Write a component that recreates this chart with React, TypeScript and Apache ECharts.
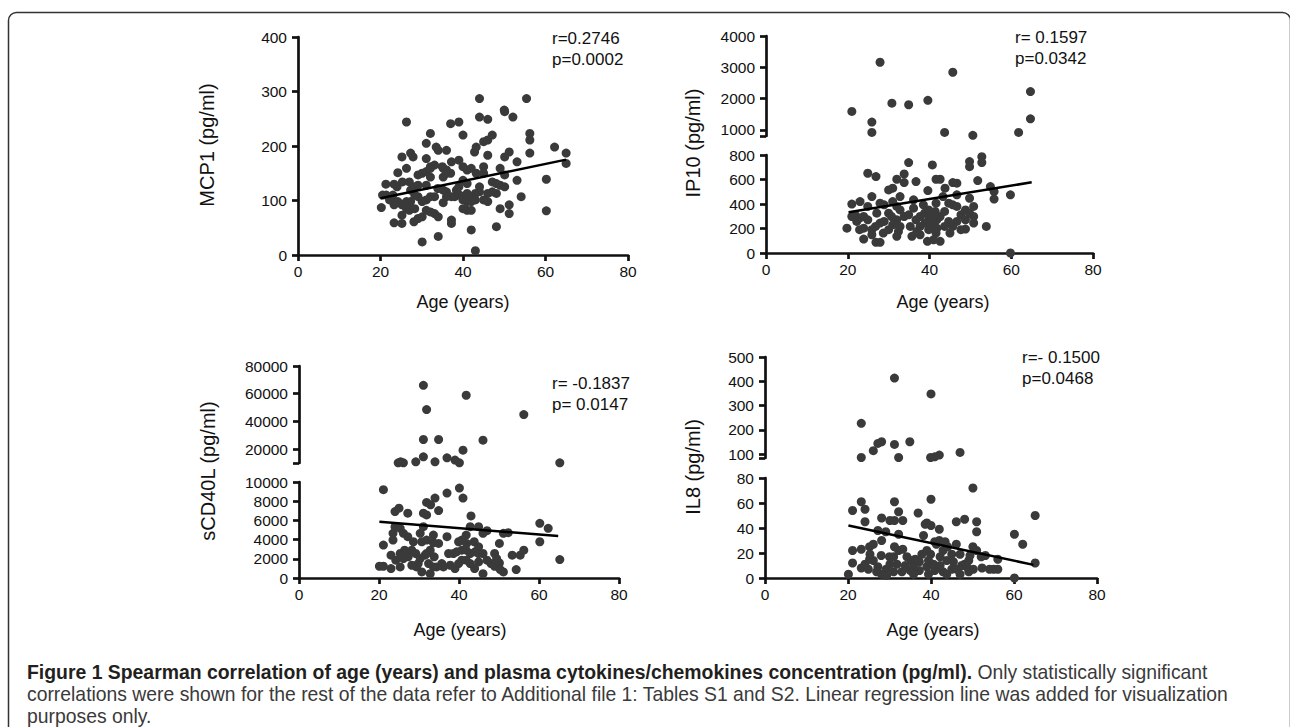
import React, { useEffect, useRef } from 'react';
import * as echarts from 'echarts';

// ---------- DATA ----------
const xTicks = [0, 20, 40, 60, 80];

// MCP1 (pg/ml) vs age
const mcp1Points: number[][] = [
  [20.2,87],[21.3,130],[21.4,110],[23.3,130],[24.2,151],[25.2,180],[26.3,244],[27.3,187],[27.9,180],[26.3,159],[27,134],[23.3,59],[25.2,58],[25.2,73],[28.1,61],[29.1,67],[30.1,70],[30.1,24],[31.1,205],[32.1,223],[31.1,177],[31.1,153],[32.1,162],[33.1,165],[33.5,198],[34,192],[36,192],[37,241],[39,244],[40,220],[35.2,159],[35.2,143],[36,150],[33.1,76],[34,70],[34,34],[37.2,64],[37.2,58],[35.2,96],[33.9,122],[36,116],[37.2,171],[39,174],[40,162],[41,156],[42,159],[42.8,189],[43.2,198],[44,287],[44,253],[46,249],[45,208],[46,211],[47.1,220],[46,183],[45,150],[43.2,150],[42,46],[43,8],[48.1,52],[49,85],[51.2,92],[51.2,76],[49,159],[50.1,180],[51.2,189],[50,266],[50.1,263],[52.1,253],[53.1,171],[53.1,137],[54.1,107],[55.4,287],[56.2,223],[56.2,211],[56.2,187],[60.2,139],[60.2,81],[62.2,198],[65,187],[65,168],[50.1,147],[50.1,125],[49,128],[48.1,113],[47.1,134],[46,113],[46,98],[45,101],[44,125],[44,116],[43,113],[42,107],[41,113],[41,98],[40,101],[40,85],[39.2,110],[38.4,119],[38,107],[41,82],[42,82],[42,98],[43,101],[40,137],[41,131],[39,125],[37.2,107],[36,107],[35.2,119],[33.1,107],[32.1,107],[31.1,101],[30.1,98],[29.1,107],[28.3,110],[27.3,98],[26.3,98],[25.2,92],[24.2,98],[23.3,92],[22.2,101],[27.3,119],[28.3,125],[29.1,128],[31.1,128],[32.1,143],[30.1,150],[29.1,147],[27,82],[28.3,85],[26.3,85],[31.1,82],[32.1,79],[32.1,159],[36,156],[48.1,131],[47.1,116],[45,162],[37,150],[35,162],[24,125],[25.3,134],[23,110],[20.5,110]
];
const mcp1Fit = [[20, 104], [65, 175]];
const mcp1Ticks = [0, 100, 200, 300, 400];

// IP10 (pg/ml) vs age
const ip10Points: number[][] = [
  [21,1585],[27.9,3160],[25.9,1245],[25.9,915],[30.8,1850],[34.9,1800],[39.6,1940],[43.7,915],[45.7,2840],[50.6,820],[61.8,915],[64.7,2220],[64.7,1350],
  [19.8,203],[21,399],[23,420],[24.9,651],[26.9,624],[22.9,190],[23.9,114],[26.9,87],[27.9,87],[25.9,190],[30,515],[31,529],[32,602],[33.8,645],[33.8,575],[34.9,738],[36.7,583],[40.7,719],[39.6,510],[41.6,602],[42.6,602],[43.8,529],[45.7,575],[46.7,570],[49.8,746],[49.8,705],[52.8,786],[52.8,738],[51.8,591],[49.8,447],[54.9,542],[55.8,502],[55.8,440],[59.8,475],[59.8,0],[53.9,217],[50.8,244],[48.8,195],[47.7,190],[39.5,95],[42.6,95],[41.6,163],[37.7,149],[35.7,136],[32.4,176],[30,190],[28.7,163],[27.9,244],[24.9,271],[23.9,298],[22.9,285],[21.8,312],[21,298],[24.9,380],[25.9,461],[27.9,407],[30,325],[31,420],[32,380],[32.8,352],[33.8,298],[34.9,312],[36.1,366],[36.7,271],[37.7,298],[38.8,325],[39.8,352],[40.6,312],[39.8,271],[38.9,244],[40.6,230],[41.8,271],[42.6,298],[43.7,339],[44.7,407],[41.6,407],[45.7,393],[46.7,380],[47.7,312],[48.8,352],[49.8,325],[50.8,298],[48.8,271],[46.7,258],[44.7,258],[43.7,217],[41.8,203],[37.7,217],[35.3,217],[32.8,217],[32,271],[31,230],[28.9,258],[26.8,217],[25.9,149],[23.9,203],[22.2,258],[28.9,393],[32.8,461],[36.1,434],[38.5,393],[43.3,461],[46.7,475],[32,136],[36.9,176],[39.8,190],[41,108],[45,163],[45.7,217],[50.8,380],[27.1,325],[30.7,298],[41.4,339]
];
const ip10Fit = [[20.2, 332], [65, 577]];
const ip10LowerTicks = [0, 200, 400, 600, 800];
const ip10UpperTicks = [800, 1000, 2000, 3000, 4000];
const ip10UpperLabels = [1000, 2000, 3000, 4000];

// sCD40L (pg/ml) vs age
const scd40lPoints: number[][] = [
  [31.1,66080],[41.8,58880],[31.9,48560],[56.2,44960],[31.1,26960],[34.9,26960],[46,26480],[41,19280],[31.1,14480],[37,13760],[24.8,10160],[26.1,10160],[29.2,10880],[34,10880],[39,12080],[40.1,10160],[65.2,10160],[25.4,10880],
  [21.1,9196],[40.1,9371],[41,8322],[37,8846],[34,8322],[31.9,7867],[32.9,7622],[34.9,7028],[31.1,6748],[31.9,6573],[24,6923],[25,7273],[27.2,6748],[43,6469],[21.1,3427],[20.1,1224],[21.1,1224],[23,979],[23,2378],[23.5,4650],[24,5350],[25.3,5175],[26.1,4650],[27.2,4301],[25.3,2552],[26.1,2028],[28.2,2902],[29.2,2552],[29.8,1503],[30.7,629],[32.8,455],[30.3,2028],[31.1,5350],[30.7,3776],[31.9,3951],[32.8,2902],[33.8,2203],[34.9,3601],[35.7,1503],[37,4301],[37.8,1329],[39,979],[39.9,3776],[40.7,2902],[41.8,4476],[41.8,2902],[42.8,2552],[42.8,5350],[44.9,5350],[43.8,3776],[44.9,3252],[46,2552],[46,455],[46,4650],[47,4930],[48.9,2552],[50.1,3601],[51.1,4650],[52.3,4720],[50.1,1573],[51.1,629],[53.3,2378],[54.3,874],[55.3,2378],[56.2,2902],[60.2,3776],[60.2,5699],[62.3,5175],[65.2,1923],[48.9,1224],[48,1503],[47,1853],[44.9,1678],[43.9,979],[42.8,1503],[41.8,1853],[40.7,1853],[39.9,1503],[38.6,2552],[37.4,2552],[36.1,1154],[34.4,1154],[33.6,1154],[32.4,1503],[31.5,2378],[29.4,1154],[28.2,1329],[27.3,2203],[25.3,1154],[24.2,1853],[28.6,3776],[30.3,4650],[33.6,4476],[41.9,3601],[40.7,3951],[39.4,2727],[50.3,874],[49.4,2028],[44.9,2552],[44,2727],[33.6,3671],[31.9,2552],[23.5,3951],[26.4,2902]
];
const scd40lFit = [[20.1, 5850], [64.8, 4380]];
const scd40lLowerTicks = [0, 2000, 4000, 6000, 8000, 10000];
const scd40lUpperTicks = [10000, 20000, 40000, 60000, 80000];
const scd40lUpperLabels = [20000, 40000, 60000, 80000];

// IL8 (pg/ml) vs age
const il8Points: number[][] = [
  [31.2,413],[40,348],[23.2,227],[26.1,114],[27.2,144],[28.1,151],[31.2,140],[34.9,151],[23.2,86],[32.2,86],[39.9,86],[40.9,89],[42,96],[47,107],
  [50.1,72],[40,63],[23.2,61],[31.2,61],[21.1,54],[24.1,55],[32.2,53],[36.9,52],[28.1,48],[30.1,46],[31.2,46],[33.2,46],[24.1,45],[39,44],[40,42],[42,39],[46.1,45],[48.1,47],[51,45],[51,37],[65.1,50],[60.1,35],[62.1,27],[65.1,12],[60.1,0],[20.1,3],[21.1,22],[23.2,23],[21.1,12],[23.2,8],[25.2,25],[26.1,27],[27.2,38],[29.1,37],[28.1,30],[25.2,15],[26.1,14],[27.2,9],[28.1,3],[29.2,7],[30.1,11],[31.2,25],[32.2,22],[33.2,23],[34.2,17],[35.2,14],[36.2,15],[37.2,13],[38.2,34],[39,22],[39.9,19],[40.9,29],[42,30],[42.9,22],[44,25],[45,19],[46.1,27],[47,19],[48.1,11],[49.1,14],[50.1,25],[51,22],[52.1,17],[53.1,18],[54.1,7],[55.1,7],[56.1,15],[56.1,7],[52.3,8],[50.2,7],[49.1,5],[47,3],[45,7],[42.9,5],[40.9,6],[39,9],[37.2,6],[35,6],[33,5],[31,5],[29.3,2],[26.9,5],[24.9,7],[24.1,11],[25.3,19],[28,18],[30,17],[31.8,11],[33.8,10],[35.8,9],[37.8,19],[39.4,14],[40.6,11],[42.2,10],[43.8,14],[45.4,13],[46.2,7],[47.4,10],[49.4,18],[48.6,9],[42.2,17],[43.8,3],[39.4,3],[35.8,3],[31,17],[32.2,35],[38.6,43],[41.3,27],[43.4,29]
];
const il8Fit = [[20.1, 42], [64.7, 10.5]];
const il8LowerTicks = [0, 20, 40, 60, 80];
const il8UpperTicks = [84, 100, 200, 300, 400, 500];
const il8UpperLabels = [100, 200, 300, 400, 500];

// ---------- LAYOUT / STYLE ----------
const FONT = '"Liberation Sans", Arial, Helvetica, sans-serif';
const CAP_FONT = '"Liberation Sans", Arial, sans-serif';
const INK = '#111';
const DOT = '#3a3a3a';

type Upper = { top: number; height: number; min: number; max: number; ticks: number[]; labels: number[] };
type Panel = {
  left: number; top: number; width: number; height: number;
  lowerMax: number; lowerTicks: number[];
  points: number[][]; fit: number[][]; upper: Upper | null;
  yTitle: string; yTitleX: number; yTitleY: number;
  xTitleX: number; xTitleY: number;
  r: string; p: string; rpX: number; rY: number; pY: number;
};

const panels: Panel[] = [
  {
    left: 298, top: 37, width: 330, height: 218, lowerMax: 400, lowerTicks: mcp1Ticks,
    points: mcp1Points, fit: mcp1Fit, upper: null,
    yTitle: 'MCP1 (pg/ml)', yTitleX: 207, yTitleY: 145, xTitleX: 463, xTitleY: 302,
    r: 'r=0.2746', p: 'p=0.0002', rpX: 552, rY: 38, pY: 59,
  },
  {
    left: 766, top: 155, width: 327, height: 98, lowerMax: 800, lowerTicks: ip10LowerTicks,
    points: ip10Points, fit: ip10Fit,
    upper: { top: 36, height: 100, min: 800, max: 4000, ticks: ip10UpperTicks, labels: ip10UpperLabels },
    yTitle: 'IP10 (pg/ml)', yTitleX: 693, yTitleY: 143, xTitleX: 943, xTitleY: 302,
    r: 'r= 0.1597', p: 'p=0.0342', rpX: 1015, rY: 37, pY: 58,
  },
  {
    left: 299, top: 482, width: 320, height: 96, lowerMax: 10000, lowerTicks: scd40lLowerTicks,
    points: scd40lPoints, fit: scd40lFit,
    upper: { top: 366, height: 97, min: 10000, max: 80000, ticks: scd40lUpperTicks, labels: scd40lUpperLabels },
    yTitle: 'sCD40L (pg/ml)', yTitleX: 208, yTitleY: 471, xTitleX: 460, xTitleY: 630,
    r: 'r= -0.1837', p: 'p= 0.0147', rpX: 552, rY: 383, pY: 404,
  },
  {
    left: 765, top: 478, width: 332, height: 100, lowerMax: 80, lowerTicks: il8LowerTicks,
    points: il8Points, fit: il8Fit,
    upper: { top: 357, height: 101, min: 84, max: 500, ticks: il8UpperTicks, labels: il8UpperLabels },
    yTitle: 'IL8 (pg/ml)', yTitleX: 693, yTitleY: 467, xTitleX: 933, xTitleY: 630,
    r: 'r=- 0.1500', p: 'p=0.0468', rpX: 1022, rY: 357, pY: 378,
  },
];

const captionLine1Bold = 'Figure 1 Spearman correlation of age (years) and plasma cytokines/chemokines concentration (pg/ml).';
const captionLine1Rest = ' Only statistically significant';
const captionLine2 = 'correlations were shown for the rest of the data refer to Additional file 1: Tables S1 and S2. Linear regression line was added for visualization';
const captionLine3 = 'purposes only.';

const lineStyle = { color: INK, width: 2.7 };
const labelFmt = (v: number) => String(v);

function text(t: string, x: number, y: number, size: number, align = 'left', rot = 0) {
  return {
    type: 'text', x, y, rotation: rot, silent: true,
    style: {
      text: t, fill: INK, font: `${size}px ${FONT}`,
      align, verticalAlign: 'middle', textAlign: align, textVerticalAlign: 'middle',
    },
  };
}

function buildOption() {
  const grid: any[] = [];
  const xAxis: any[] = [];
  const yAxis: any[] = [];
  const series: any[] = [];
  const graphic: any[] = [];

  panels.forEach((pn) => {
    const lowIdx = grid.length;
    grid.push({ left: pn.left, top: pn.top, width: pn.width, height: pn.height, containLabel: false });
    xAxis.push({
      type: 'value', gridIndex: lowIdx, min: 0, max: 80,
      axisLine: { show: true, onZero: false, lineStyle },
      axisTick: { show: true, length: 6, lineStyle, customValues: xTicks },
      axisLabel: { color: INK, fontFamily: FONT, fontSize: 15.5, margin: 8, formatter: labelFmt, customValues: xTicks },
      splitLine: { show: false },
    });
    yAxis.push({
      type: 'value', gridIndex: lowIdx, min: 0, max: pn.lowerMax,
      axisLine: { show: true, onZero: false, lineStyle },
      axisTick: { show: true, length: 6, lineStyle, customValues: pn.lowerTicks },
      axisLabel: { color: INK, fontFamily: FONT, fontSize: 15.5, margin: 11, formatter: labelFmt, customValues: pn.lowerTicks },
      splitLine: { show: false },
    });
    const lowData = pn.points.filter((d) => d[1] <= pn.lowerMax);
    series.push({
      type: 'scatter', xAxisIndex: lowIdx, yAxisIndex: lowIdx, data: lowData,
      symbolSize: 9, itemStyle: { color: DOT, opacity: 1 }, clip: false, z: 2,
    });
    series.push({
      type: 'line', xAxisIndex: lowIdx, yAxisIndex: lowIdx, data: pn.fit,
      symbol: 'none', lineStyle: { color: '#000', width: 2.5 }, z: 3,
    });

    if (pn.upper) {
      const u = pn.upper;
      const upIdx = grid.length;
      grid.push({ left: pn.left, top: u.top, width: pn.width, height: u.height, containLabel: false });
      xAxis.push({ type: 'value', gridIndex: upIdx, min: 0, max: 80, show: false, splitLine: { show: false } });
      yAxis.push({
        type: 'value', gridIndex: upIdx, min: u.min, max: u.max,
        axisLine: { show: true, onZero: false, lineStyle },
        axisTick: { show: true, length: 6, lineStyle, customValues: u.ticks },
        axisLabel: { color: INK, fontFamily: FONT, fontSize: 15.5, margin: 11, formatter: labelFmt, customValues: u.labels },
        splitLine: { show: false },
      });
      const upData = pn.points.filter((d) => d[1] > pn.lowerMax);
      series.push({
        type: 'scatter', xAxisIndex: upIdx, yAxisIndex: upIdx, data: upData,
        symbolSize: 9, itemStyle: { color: DOT, opacity: 1 }, clip: false, z: 2,
      });
    }

    graphic.push(text(pn.yTitle, pn.yTitleX, pn.yTitleY, 20, 'center', Math.PI / 2));
    graphic.push(text('Age (years)', pn.xTitleX, pn.xTitleY, 18, 'center'));
    graphic.push(text(pn.r, pn.rpX, pn.rY, 17, 'left'));
    graphic.push(text(pn.p, pn.rpX, pn.pY, 17, 'left'));
  });

  // frame
  graphic.push({
    type: 'rect', silent: true,
    shape: { x: 8.5, y: 12.5, width: 1282, height: 800, r: 8 },
    style: { fill: 'none', stroke: '#333', lineWidth: 1.5 },
  });

  // caption
  const rich = {
    b: { fontFamily: CAP_FONT, fontWeight: 'bold', fontSize: 19.4, lineHeight: 19, fill: '#231f20' },
    n: { fontFamily: CAP_FONT, fontWeight: 'normal', fontSize: 19.35, lineHeight: 19, fill: '#3a3a3a' },
  };
  const capLine = (t: string, y: number) => ({
    type: 'text', x: 27, y, silent: true,
    style: { text: t, rich, verticalAlign: 'middle', textVerticalAlign: 'middle' },
  });
  graphic.push(capLine(`{b|${captionLine1Bold}}{n|${captionLine1Rest}}`, 671.5));
  graphic.push(capLine(`{n|${captionLine2}}`, 693.7));
  graphic.push(capLine(`{n|${captionLine3}}`, 715.8));

  return { animation: false, backgroundColor: '#fff', grid, xAxis, yAxis, series, graphic };
}

export default function App() {
  const ref = useRef<HTMLDivElement>(null);
  useEffect(() => {
    document.body.style.margin = '0';
    const chart = echarts.init(ref.current as HTMLDivElement, null, { renderer: 'svg' });
    chart.setOption(buildOption() as any);
    return () => chart.dispose();
  }, []);
  return <div ref={ref} style={{ width: 1290, height: 727 }} />;
}
